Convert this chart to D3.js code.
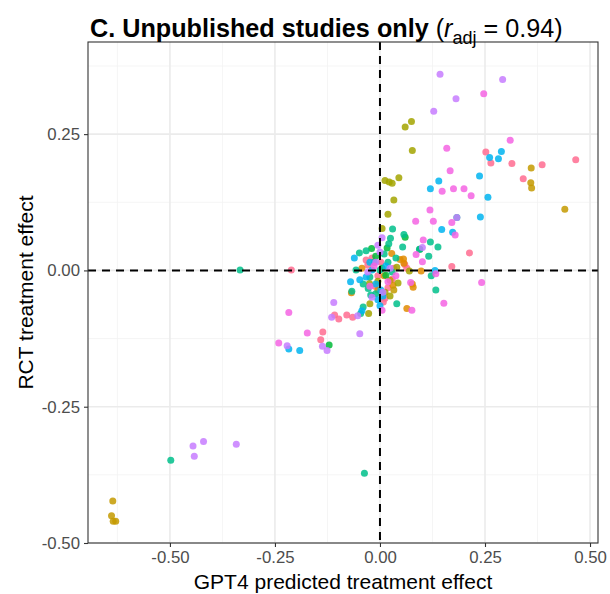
<!DOCTYPE html>
<html>
<head>
<meta charset="utf-8">
<script src="https://cdn.jsdelivr.net/npm/d3@7"></script>
<style>
  body { margin: 0; background: #fff; }
  text { font-family: "Liberation Sans", Arial, Helvetica, sans-serif; }
</style>
</head>
<body>
<script>
// studies (one colour each) and their [gpt4 prediction, rct effect] pairs
var studies = ["S1", "S2", "S3", "S4", "S5", "S6", "S7", "S8", "S9"];
var colors = ["#FF6C91", "#E08B00", "#C49A00", "#A3A500", "#00BA38", "#00C08B", "#00B4F0", "#C77CFF", "#F564E3"];

var pinkPts = [[0.252,0.217],[0.264,0.197],[0.314,0.196],[0.386,0.194],[0.466,0.203],[0.341,0.168],
  [0.213,0.032],[0.171,0.007],[0.059,0.011],[0.064,0.004],[-0.211,0.001],[-0.108,-0.082],[-0.098,-0.089],
  [-0.079,-0.082],[-0.065,-0.086],[-0.136,-0.113],[-0.141,-0.127],[0.008,-0.058],
  [-0.019,0.023],[-0.029,0.010],[-0.005,-0.010],[0.019,-0.032],[0.012,-0.051],[0.029,-0.016],
  [-0.012,-0.029],[-0.033,0.019],[0.002,0.015],[0.033,0.004]];
var orangePts = [[0.098,-0.001],[0.056,0.021],[0.048,0.020],[0.057,0.013],[0.079,-0.031],[0.077,-0.025],
  [0.064,-0.070],[-0.068,-0.041],[0.028,0.031],[0.010,-0.010],[-0.005,-0.036],[0.031,-0.027],[-0.043,0.004]];
var goldPts = [[0.360,0.188],[0.359,0.161],[0.361,0.151],[0.440,0.112],[-0.636,-0.423],[-0.639,-0.450],
  [-0.635,-0.460],[-0.629,-0.460],[0.024,-0.018],[0.033,-0.036]];
var olivePts = [[0.075,0.273],[0.060,0.263],[0.077,0.220],[0.012,0.165],[0.022,0.162],[0.029,0.160],
  [0.045,0.170],[0.033,0.129],[0.019,0.103],[0.005,0.077],[0.070,-0.001],[0.040,0.006],[-0.025,-0.024],
  [-0.024,-0.061],[-0.027,-0.079],[-0.005,-0.020],[0.012,-0.040],[0.024,-0.047],[0.043,-0.023]];
var greenPts = [[0.060,0.061],[0.095,0.039],[-0.020,0.040],[0.017,0.041],[-0.121,-0.137],
  [-0.010,0.026],[0.005,0.004],[0.014,-0.009]];
var tealPts = [[0.183,0.097],[0.030,0.076],[0.057,0.066],[0.025,0.059],[0.054,0.043],[0.120,0.052],
  [0.138,0.043],[0.116,0.026],[0.094,0.039],[0.122,-0.010],[0.133,-0.036],[0.040,-0.061],[0.021,0.049],
  [-0.033,0.036],[-0.049,0.032],[-0.057,0.001],[-0.333,0.001],[-0.498,-0.348],[-0.040,-0.025],
  [-0.067,-0.038],[-0.028,-0.033],[-0.022,-0.045],[-0.040,-0.067],[-0.046,-0.079],[-0.037,-0.372],
  [-0.014,0.015],[0.000,0.001],[0.019,0.015],[-0.024,-0.012],[0.029,-0.003],[0.010,0.030],[0.038,0.023],
  [-0.010,-0.043]];
var cyanPts = [[0.289,0.218],[0.261,0.207],[0.282,0.205],[0.237,0.173],[0.140,0.164],[0.120,0.150],
  [0.257,0.134],[0.239,0.098],[0.147,0.075],[0.173,0.070],[0.131,0.000],[-0.061,0.023],[-0.070,-0.021],
  [-0.048,-0.017],[-0.033,-0.012],[-0.043,-0.074],[-0.217,-0.144],[-0.191,-0.147],
  [-0.010,-0.025],[0.002,-0.036],[0.007,-0.047],[-0.019,0.001],[0.014,0.008],[-0.005,-0.054],
  [-0.024,0.015],[0.000,-0.065]];
var purplePts = [[0.143,0.360],[0.292,0.350],[0.181,0.315],[0.128,0.292],[0.005,0.060],[-0.005,0.046],
  [0.101,0.042],[0.183,0.097],[-0.110,-0.059],[-0.115,-0.086],[-0.053,-0.083],[-0.048,-0.116],
  [-0.221,-0.138],[-0.137,-0.139],[-0.126,-0.147],[-0.445,-0.322],[-0.420,-0.314],[-0.442,-0.341],
  [-0.342,-0.319],[-0.010,0.015],[0.007,-0.040],[-0.019,-0.049],[-0.029,-0.003],[0.024,0.004],[0.000,0.034]];
var magentaPts = [[0.247,0.324],[0.310,0.239],[0.159,0.224],[0.167,0.183],[0.148,0.145],[0.175,0.150],
  [0.200,0.150],[0.217,0.137],[0.119,0.111],[0.085,0.090],[0.127,0.090],[0.171,0.088],[0.179,0.065],
  [0.103,0.056],[0.086,0.029],[0.101,0.016],[0.133,-0.006],[0.242,-0.022],[0.152,-0.060],[0.076,-0.073],
  [0.073,-0.022],[-0.217,-0.077],[-0.173,-0.115],[-0.241,-0.133],
  [-0.014,0.008],[0.019,-0.021],[-0.024,-0.029],[0.038,-0.010],[0.005,-0.073]];

var seriesPts = [pinkPts, orangePts, goldPts, olivePts, greenPts, tealPts, cyanPts, purplePts, magentaPts];

var xTicks = [-0.50, -0.25, 0.00, 0.25, 0.50];
var yTicks = [-0.50, -0.25, 0.00, 0.25];
var xMinor = [-0.625, -0.375, -0.125, 0.125, 0.375];
var yMinor = [-0.375, -0.125, 0.125, 0.375];

var W = 610, H = 594;
var margin = { top: 42, right: 12, bottom: 51, left: 88 };
var width = W - margin.left - margin.right,
    height = H - margin.top - margin.bottom;

var x = d3.scaleLinear().domain([-0.695, 0.519]).range([0, width]);
var y = d3.scaleLinear().domain([-0.5, 0.419]).range([height, 0]);

var svg = d3.select("body").append("svg")
    .attr("width", W)
    .attr("height", H);

var g = svg.append("g")
    .attr("transform", "translate(" + margin.left + "," + margin.top + ")");

// grid
g.selectAll(".xminor").data(xMinor).enter().append("line")
    .attr("x1", d => x(d)).attr("x2", d => x(d)).attr("y1", 0).attr("y2", height)
    .attr("stroke", "#f2f2f2").attr("stroke-width", 0.8);
g.selectAll(".yminor").data(yMinor).enter().append("line")
    .attr("y1", d => y(d)).attr("y2", d => y(d)).attr("x1", 0).attr("x2", width)
    .attr("stroke", "#f2f2f2").attr("stroke-width", 0.8);
g.selectAll(".xmajor").data(xTicks).enter().append("line")
    .attr("x1", d => x(d)).attr("x2", d => x(d)).attr("y1", 0).attr("y2", height)
    .attr("stroke", "#ebebeb").attr("stroke-width", 1.6);
g.selectAll(".ymajor").data(yTicks).enter().append("line")
    .attr("y1", d => y(d)).attr("y2", d => y(d)).attr("x1", 0).attr("x2", width)
    .attr("stroke", "#ebebeb").attr("stroke-width", 1.6);

// points
seriesPts.forEach(function(pts, i) {
  g.append("g").selectAll("circle")
      .data(pts)
    .enter().append("circle")
      .attr("cx", d => x(d[0]))
      .attr("cy", d => y(d[1]))
      .attr("r", 3.5)
      .style("fill", colors[i])
      .style("opacity", 0.85);
});

// reference lines
g.append("line")
    .attr("x1", x(0)).attr("x2", x(0)).attr("y1", 0).attr("y2", height)
    .attr("stroke", "#000").attr("stroke-width", 2).attr("stroke-dasharray", "8,6");
g.append("line")
    .attr("y1", y(0)).attr("y2", y(0)).attr("x1", 0).attr("x2", width)
    .attr("stroke", "#000").attr("stroke-width", 2).attr("stroke-dasharray", "8,6");

// border
g.append("rect")
    .attr("width", width).attr("height", height)
    .attr("fill", "none").attr("stroke", "#333").attr("stroke-width", 1.1);

// axes
var xAxis = d3.axisBottom(x).tickValues(xTicks).tickSize(4).tickPadding(4)
    .tickFormat(d3.format(".2f"));
var yAxis = d3.axisLeft(y).tickValues(yTicks).tickSize(4).tickPadding(4)
    .tickFormat(d3.format(".2f"));

var gx = g.append("g").attr("transform", "translate(0," + height + ")").call(xAxis);
var gy = g.append("g").call(yAxis);
[gx, gy].forEach(function(a) {
  a.select(".domain").remove();
  a.selectAll("line").attr("stroke", "#333").attr("stroke-width", 1.1);
  a.selectAll("text").attr("fill", "#4d4d4d").style("font-size", "16.8px")
    .style("font-family", "'Liberation Sans', Arial, sans-serif");
});
gx.selectAll("text").text(d => d3.format(".2f")(d).replace("\u2212", "-"));
gy.selectAll("text").text(d => d3.format(".2f")(d).replace("\u2212", "-"));

// axis titles
svg.append("text")
    .attr("x", margin.left + width / 2).attr("y", 589)
    .attr("text-anchor", "middle")
    .style("font-size", "21px")
    .text("GPT4 predicted treatment effect");
svg.append("text")
    .attr("transform", "translate(33," + (margin.top + height / 2) + ") rotate(-90)")
    .attr("text-anchor", "middle")
    .style("font-size", "21px")
    .text("RCT treatment effect");

// title
var title = svg.append("text").attr("x", 90).attr("y", 37).style("font-size", "25.2px");
title.append("tspan").style("font-weight", "bold").text("C. Unpublished studies only ");
title.append("tspan").text("(");
title.append("tspan").style("font-style", "italic").text("r");
title.append("tspan").attr("dy", 7).style("font-size", "18px").text("adj");
title.append("tspan").attr("dy", -7).text(" = 0.94)");
</script>
</body>
</html>
